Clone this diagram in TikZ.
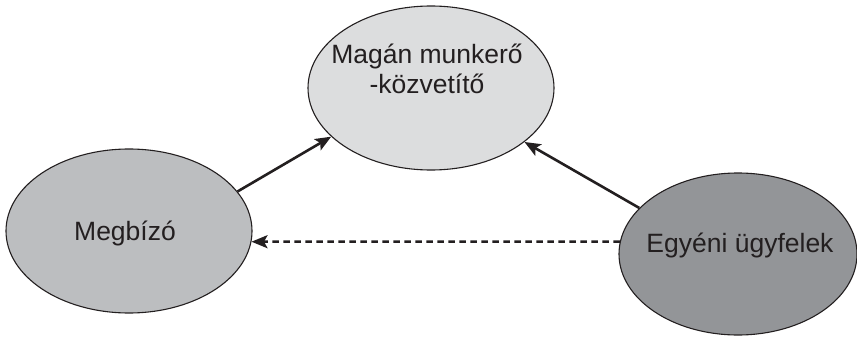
\documentclass[tikz,border=0pt]{standalone}
\usepackage{fontspec}
\setmainfont{Liberation Sans}
\usetikzlibrary{shapes.geometric,arrows.meta}
\definecolor{inkc}{HTML}{231F20}
\definecolor{lightf}{HTML}{DCDDDE}
\definecolor{midf}{HTML}{BCBEC0}
\definecolor{darkf}{HTML}{939598}
\tikzset{
  ell/.style={ellipse, draw=inkc, line width=1.1pt, inner sep=0pt},
  lbl/.style={text=inkc, font=\fontsize{26.5}{30}\selectfont, align=center, inner sep=0pt, anchor=base},
  conn/.style={draw=inkc, line width=2.6pt, -{Stealth[length=16pt,width=13pt,inset=3.5pt]}},
  dconn/.style={conn, line width=2.5pt, dash pattern=on 6.5pt off 4.5pt}
}
\begin{document}
\begin{tikzpicture}[x=1pt,y=-1pt]
\useasboundingbox (0,0) rectangle (857,337);
\node[ell, fill=lightf, minimum width=246pt, minimum height=164pt] (m) at (431,88) {};
\node[ell, fill=midf, minimum width=246pt, minimum height=164pt] (g) at (129,231) {};
\node[ell, fill=darkf, minimum width=238pt, minimum height=162pt] (e) at (738,254) {};
\node[lbl] (mt) at (427,93) {Magán munkerő\\-közvetítő};
\node[lbl] (gt) at (125,240) {Megbízó};
\node[lbl] (et) at (740,252) {Egyéni ügyfelek};
\draw[conn] (g.20) -- (m.206.3);
\draw[conn] (e.155.8) -- (m.330.6);
\draw[dconn] (e.174.5) -- (g.-5.5);
\end{tikzpicture}
\end{document}
